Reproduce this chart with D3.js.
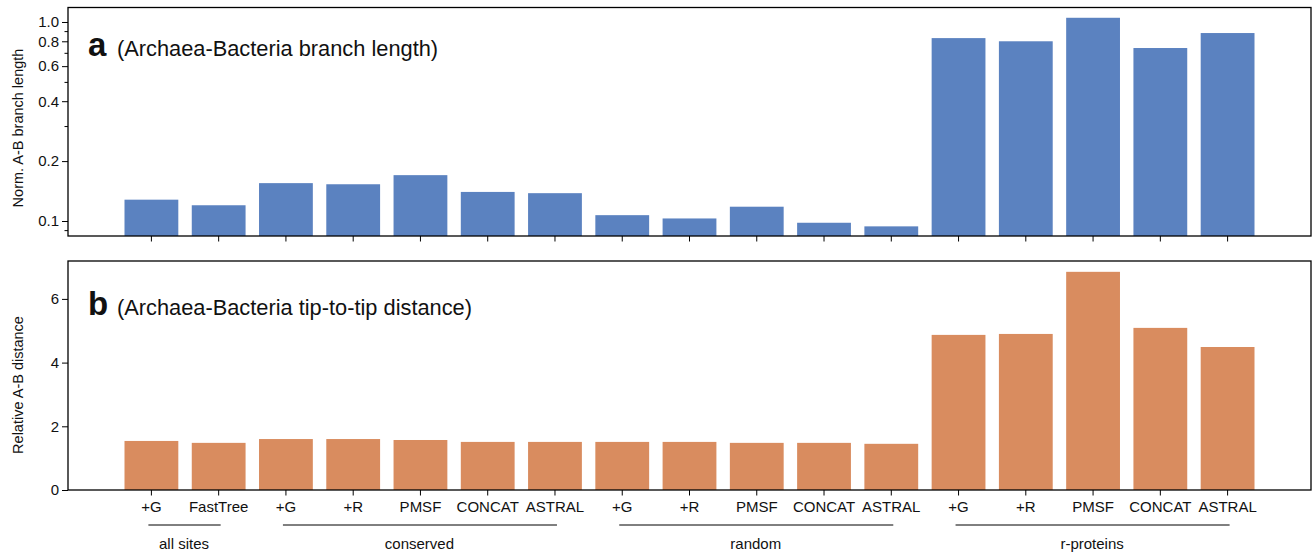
<!DOCTYPE html>
<html>
<head>
<meta charset="utf-8">
<style>
body { margin: 0; background: #fff; }
text { font-family: "Liberation Sans", Arial, sans-serif; fill: #111; }
.axis path, .axis line { stroke: #000; }
</style>
<script src="https://cdn.jsdelivr.net/npm/d3@7"></script>
</head>
<body>
<svg width="1312" height="552"></svg>
<script>
var methods = ["+G", "FastTree", "+G", "+R", "PMSF", "CONCAT", "ASTRAL", "+G", "+R", "PMSF", "CONCAT", "ASTRAL", "+G", "+R", "PMSF", "CONCAT", "ASTRAL"];
var branchLength = [0.128, 0.120, 0.155, 0.153, 0.170, 0.140, 0.138, 0.107, 0.103, 0.118, 0.098, 0.094, 0.83, 0.80, 1.05, 0.74, 0.88];
var tipDistance = [1.54, 1.48, 1.60, 1.60, 1.57, 1.51, 1.51, 1.51, 1.51, 1.48, 1.48, 1.45, 4.87, 4.90, 6.85, 5.09, 4.49];
var groups = [
  {name: "all sites", first: 0, last: 1},
  {name: "conserved", first: 2, last: 6},
  {name: "random", first: 7, last: 11},
  {name: "r-proteins", first: 12, last: 16}
];
var logTicks = [0.1, 0.2, 0.4, 0.6, 0.8, 1.0];
var logMinor = [0.09, 0.3, 0.5, 0.7, 0.9];
var linTicks = [0, 2, 4, 6];

var svg = d3.select("svg"),
    left = 68, right = 1311;

var idx = d3.range(methods.length);
var x = d3.scaleBand().domain(idx).range([left, right]).paddingInner(0.2).paddingOuter(0.84);
var xc = function(i) { return x(i) + x.bandwidth() / 2; };

var yA = d3.scaleLog().domain([0.08408, 1.1826]).range([236, 7.5]);
var yB = d3.scaleLinear().domain([0, 7.19]).range([490, 261]);

function panel(y, values, color, top, bottom) {
  var g = svg.append("g");
  g.selectAll("rect").data(values).enter().append("rect")
      .attr("x", function(d, i) { return x(i); })
      .attr("width", x.bandwidth())
      .attr("y", function(d) { return y(d); })
      .attr("height", function(d) { return bottom - y(d); })
      .attr("fill", color);
  g.append("rect")
      .attr("x", left).attr("y", top)
      .attr("width", right - left).attr("height", bottom - top)
      .attr("fill", "none").attr("stroke", "#000").attr("stroke-width", 1.3);
  return g;
}

// panel a
var ga = panel(yA, branchLength, "#5B82C0", 7.5, 236);
ga.append("g").attr("class", "axis")
    .attr("transform", "translate(0,236)")
    .call(d3.axisBottom(x).tickSize(5.5).tickFormat(""))
    .call(function(s) { s.select(".domain").remove(); });
ga.append("g").attr("class", "axis")
    .attr("transform", "translate(" + left + ",0)")
    .call(d3.axisLeft(yA).tickValues(logTicks).tickSize(6).tickPadding(3)
      .tickFormat(d3.format(".1f")))
    .call(function(s) {
      s.select(".domain").remove();
      s.selectAll("text").style("font-size", "15px").attr("fill", "#111");
    });
ga.append("g").attr("class", "axis")
    .attr("transform", "translate(" + left + ",0)")
    .call(d3.axisLeft(yA).tickValues(logMinor).tickSize(3.5).tickFormat(""))
    .call(function(s) { s.select(".domain").remove(); });

// panel b
var gb = panel(yB, tipDistance, "#D98C5F", 261, 490);
gb.append("g").attr("class", "axis")
    .attr("transform", "translate(0,490)")
    .call(d3.axisBottom(x).tickSize(5.5).tickPadding(6)
      .tickFormat(function(i) { return methods[i]; }))
    .call(function(s) {
      s.select(".domain").remove();
      s.selectAll("text").style("font-size", "15px").attr("fill", "#111");
    });
gb.append("g").attr("class", "axis")
    .attr("transform", "translate(" + left + ",0)")
    .call(d3.axisLeft(yB).tickValues(linTicks).tickSize(6).tickPadding(3))
    .call(function(s) {
      s.select(".domain").remove();
      s.selectAll("text").style("font-size", "15px").attr("fill", "#111");
    });

// panel titles
[[56, "a", "(Archaea-Bacteria branch length)"], [315, "b", "(Archaea-Bacteria tip-to-tip distance)"]].forEach(function(t) {
  svg.append("text").attr("x", 88).attr("y", t[0])
      .style("font-size", "33px").style("font-weight", "bold").text(t[1]);
  svg.append("text").attr("x", 117).attr("y", t[0])
      .style("font-size", "21.8px").text(t[2]);
});

// y labels
svg.append("text").attr("transform", "translate(23,128) rotate(-90)")
    .attr("text-anchor", "middle").style("font-size", "14.5px").text("Norm. A-B branch length");
svg.append("text").attr("transform", "translate(23,385) rotate(-90)")
    .attr("text-anchor", "middle").style("font-size", "14.5px").text("Relative A-B distance");

// group brackets
var grp = svg.append("g").selectAll("g").data(groups).enter().append("g");
grp.append("line")
    .attr("x1", function(d) { return xc(d.first) - 3; })
    .attr("x2", function(d) { return xc(d.last) + 2; })
    .attr("y1", 525).attr("y2", 525)
    .attr("stroke", "#000").attr("stroke-width", 1);
grp.append("text")
    .attr("x", function(d) { return (xc(d.first) + xc(d.last)) / 2 - 1; })
    .attr("y", 549)
    .attr("text-anchor", "middle").style("font-size", "15px")
    .text(function(d) { return d.name; });
</script>
</body>
</html>
